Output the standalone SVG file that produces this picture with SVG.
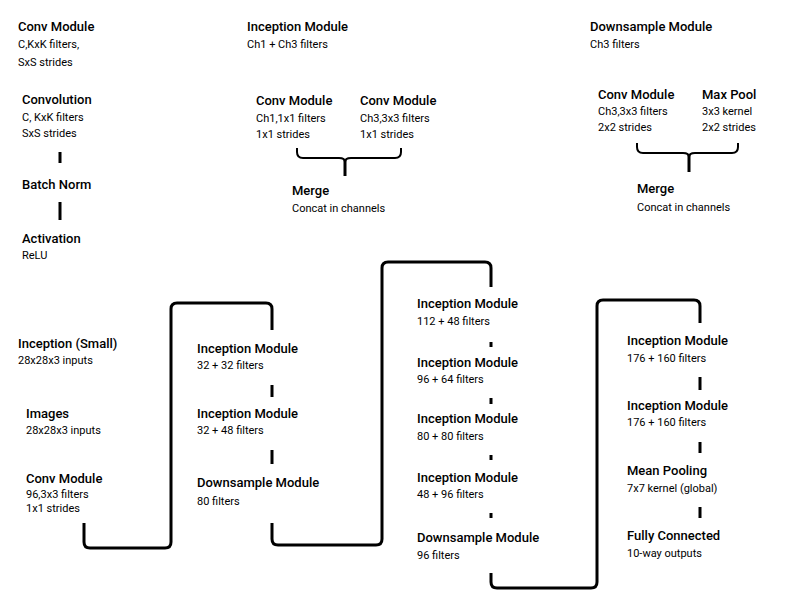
<svg xmlns="http://www.w3.org/2000/svg" width="800" height="598" viewBox="0 0 800 598">
<style>
.t{font-family:Roboto,"Liberation Sans",sans-serif;font-size:13px;font-weight:500;fill:#000}
.s{font-family:Roboto,"Liberation Sans",sans-serif;font-size:11px;fill:#000}
.c{fill:none;stroke:#000;stroke-width:3;stroke-linecap:butt;stroke-linejoin:round}
.b{fill:none;stroke:#000;stroke-width:2;stroke-linejoin:round}
</style>
<rect width="800" height="598" fill="#fff"/>
<g id="legend-conv">
<text class="t" x="18" y="31">Conv Module</text>
<text class="s" x="18" y="48">C,KxK filters,</text>
<text class="s" x="18" y="66">SxS strides</text>
</g>
<g id="convolution">
<text class="t" x="22" y="104">Convolution</text>
<text class="s" x="22" y="121">C, KxK filters</text>
<text class="s" x="22" y="137">SxS strides</text>
</g>
<g id="batchnorm"><text class="t" x="22" y="189">Batch Norm</text></g>
<g id="activation">
<text class="t" x="22" y="243">Activation</text>
<text class="s" x="22" y="259">ReLU</text>
</g>
<g id="legend-inception">
<text class="t" x="247" y="31">Inception Module</text>
<text class="s" x="247" y="48">Ch1 + Ch3 filters</text>
</g>
<g id="inc-conv1">
<text class="t" x="256" y="105">Conv Module</text>
<text class="s" x="256" y="122">Ch1,1x1 filters</text>
<text class="s" x="256" y="138">1x1 strides</text>
</g>
<g id="inc-conv3">
<text class="t" x="360" y="105">Conv Module</text>
<text class="s" x="360" y="122">Ch3,3x3 filters</text>
<text class="s" x="360" y="138">1x1 strides</text>
</g>
<g id="inc-merge">
<text class="t" x="292" y="195">Merge</text>
<text class="s" x="292" y="212">Concat in channels</text>
</g>
<g id="legend-downsample">
<text class="t" x="590" y="31">Downsample Module</text>
<text class="s" x="590" y="48">Ch3 filters</text>
</g>
<g id="ds-conv">
<text class="t" x="598" y="99">Conv Module</text>
<text class="s" x="598" y="115">Ch3,3x3 filters</text>
<text class="s" x="598" y="131">2x2 strides</text>
</g>
<g id="ds-pool">
<text class="t" x="702" y="99">Max Pool</text>
<text class="s" x="702" y="115">3x3 kernel</text>
<text class="s" x="702" y="131">2x2 strides</text>
</g>
<g id="ds-merge">
<text class="t" x="637" y="193">Merge</text>
<text class="s" x="637" y="211">Concat in channels</text>
</g>
<g id="title">
<text class="t" x="18" y="348">Inception (Small)</text>
<text class="s" x="18" y="364">28x28x3 inputs</text>
</g>
<g id="images">
<text class="t" x="26" y="418">Images</text>
<text class="s" x="26" y="434">28x28x3 inputs</text>
</g>
<g id="conv1">
<text class="t" x="26" y="483">Conv Module</text>
<text class="s" x="26" y="498">96,3x3 filters</text>
<text class="s" x="26" y="512">1x1 strides</text>
</g>
<g id="inc1">
<text class="t" x="197" y="353">Inception Module</text>
<text class="s" x="197" y="369">32 + 32 filters</text>
</g>
<g id="inc2">
<text class="t" x="197" y="418">Inception Module</text>
<text class="s" x="197" y="434">32 + 48 filters</text>
</g>
<g id="ds1">
<text class="t" x="197" y="487">Downsample Module</text>
<text class="s" x="197" y="505">80 filters</text>
</g>
<g id="inc3">
<text class="t" x="417" y="308">Inception Module</text>
<text class="s" x="417" y="325">112 + 48 filters</text>
</g>
<g id="inc4">
<text class="t" x="417" y="367">Inception Module</text>
<text class="s" x="417" y="383">96 + 64 filters</text>
</g>
<g id="inc5">
<text class="t" x="417" y="423">Inception Module</text>
<text class="s" x="417" y="440">80 + 80 filters</text>
</g>
<g id="inc6">
<text class="t" x="417" y="482">Inception Module</text>
<text class="s" x="417" y="498">48 + 96 filters</text>
</g>
<g id="ds2">
<text class="t" x="417" y="542">Downsample Module</text>
<text class="s" x="417" y="559">96 filters</text>
</g>
<g id="inc7">
<text class="t" x="627" y="345">Inception Module</text>
<text class="s" x="627" y="362">176 + 160 filters</text>
</g>
<g id="inc8">
<text class="t" x="627" y="410">Inception Module</text>
<text class="s" x="627" y="426">176 + 160 filters</text>
</g>
<g id="meanpool">
<text class="t" x="627" y="475">Mean Pooling</text>
<text class="s" x="627" y="492">7x7 kernel (global)</text>
</g>
<g id="fc">
<text class="t" x="627" y="540">Fully Connected</text>
<text class="s" x="627" y="557">10-way outputs</text>
</g>
<g id="connectors">
<path class="c" d="M60,152V163M60,202V220"/>
<path class="b" d="M297,148V152Q297,158 303,158H339Q345,158 345,162Q345,158 351,158H395Q401,158 401,152V148"/>
<path class="c" d="M345,160V176"/>
<path class="b" d="M637,143V147Q637,153 643,153H683Q689,153 689,157Q689,153 695,153H732Q738,153 738,147V143"/>
<path class="c" d="M689,155V172"/>
<path class="c" d="M84,523V542Q84,548 90,548H165Q171,548 171,542V309Q171,303 177,303H266Q272,303 272,309V330"/>
<path class="c" d="M272,385V397M272,450V464"/>
<path class="c" d="M272,523V539Q272,545 278,545H376Q382,545 382,539V268Q382,262 388,262H485Q491,262 491,268V287"/>
<path class="c" d="M491,342V347M491,398V404M491,455V460M491,513V518"/>
<path class="c" d="M491,573V582Q491,588 497,588H591Q597,588 597,582V306Q597,300 603,300H694Q700,300 700,306V323"/>
<path class="c" d="M700,377V390M700,442V453M700,507V518"/>
</g>
</svg>
